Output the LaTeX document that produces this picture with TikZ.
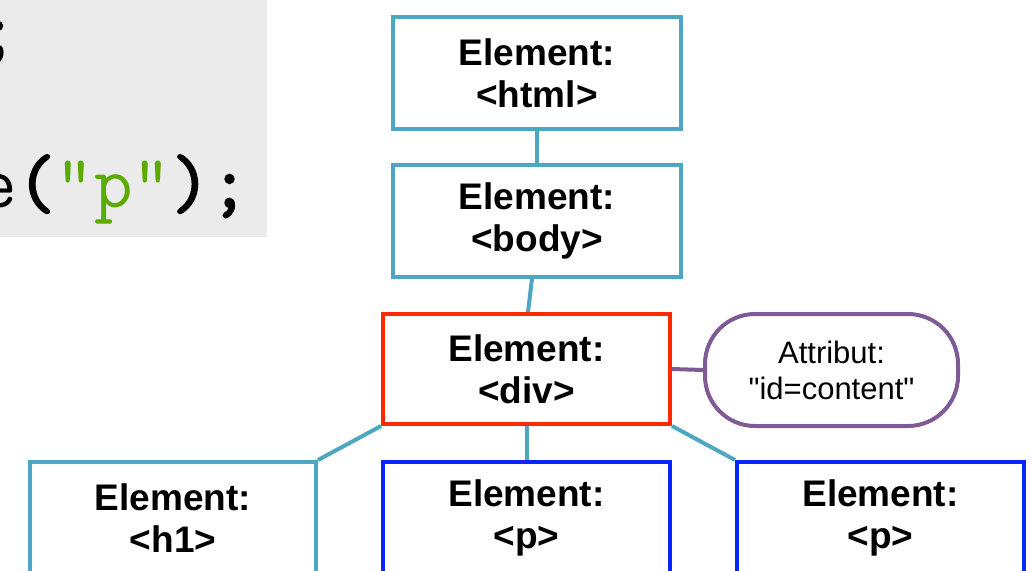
\documentclass[tikz,border=0pt]{standalone}
\usepackage{fontspec}
\usetikzlibrary{calc}
\setmainfont{Liberation Sans}
\newfontfamily\codebold{Latin Modern Mono}[FakeBold=2.5]
\definecolor{teal}{HTML}{4DA6C2}
\definecolor{redc}{HTML}{FF2A00}
\definecolor{bluec}{HTML}{0A24FF}
\definecolor{purp}{HTML}{7F5A96}
\definecolor{greyc}{HTML}{EBEBEB}
\definecolor{codegreen}{HTML}{5AAA00}
\begin{document}
\begin{tikzpicture}[x=1pt,y=-1pt,
  elem/.style={draw=teal,line width=4pt,fill=white,minimum width=288pt,minimum height=112pt,
    align=center,font=\fontsize{37}{42}\selectfont\bfseries,inner sep=0pt},
  attr/.style={draw=purp,line width=4pt,fill=white,rounded corners=50pt,minimum width=253pt,minimum height=112pt,
    align=center,font=\fontsize{31}{36}\selectfont,inner sep=0pt},
  conn/.style={draw=teal,line width=4pt},
  code/.style={font=\fontsize{75}{75}\selectfont\ttfamily,inner sep=0pt}]
\useasboundingbox (0,0) rectangle (1032,570);
\clip (0,0) rectangle (1032,570);
\fill[greyc] (0,0) rectangle (267,237);
\node[code,anchor=base] (semi) at (-2,54) {\codebold;};
\node[code,anchor=base west] (codeline) at (-21.75,207) {e{\codebold(}\textcolor{codegreen}{\textquotedbl p\textquotedbl}{\codebold);}};
\node[elem] (html) at (537,73) {Element:\\<html>};
\node[elem] (body) at (537,220.5) {Element:\\<body>};
\node[elem,draw=redc,minimum width=287pt,minimum height=110pt] (div) at (526.5,369) {Element:\\<div>};
\node[attr] (attr) at (831.5,370) {Attribut:\\\textquotedbl id=content\textquotedbl};
\node[elem,minimum width=286pt] (h1) at (173,518) {Element:\\<h1>};
\node[elem,draw=bluec,minimum width=287pt] (p1) at (526.5,518) {Element:\\<p>};
\node[elem,draw=bluec,minimum width=287pt] (p2) at (880.5,518) {Element:\\<p>};
\draw[conn] (html.south) -- (body.north);
\draw[conn] ($(body.south)+(-5,0)$) -- ($(div.north)+(1.5,0)$);
\draw[conn] (div.south west) -- (h1.north east);
\draw[conn] (div.south) -- (p1.north);
\draw[conn] (div.south east) -- (p2.north west);
\draw[conn,draw=purp] (div.east) -- (attr.west);
\end{tikzpicture}
\end{document}
